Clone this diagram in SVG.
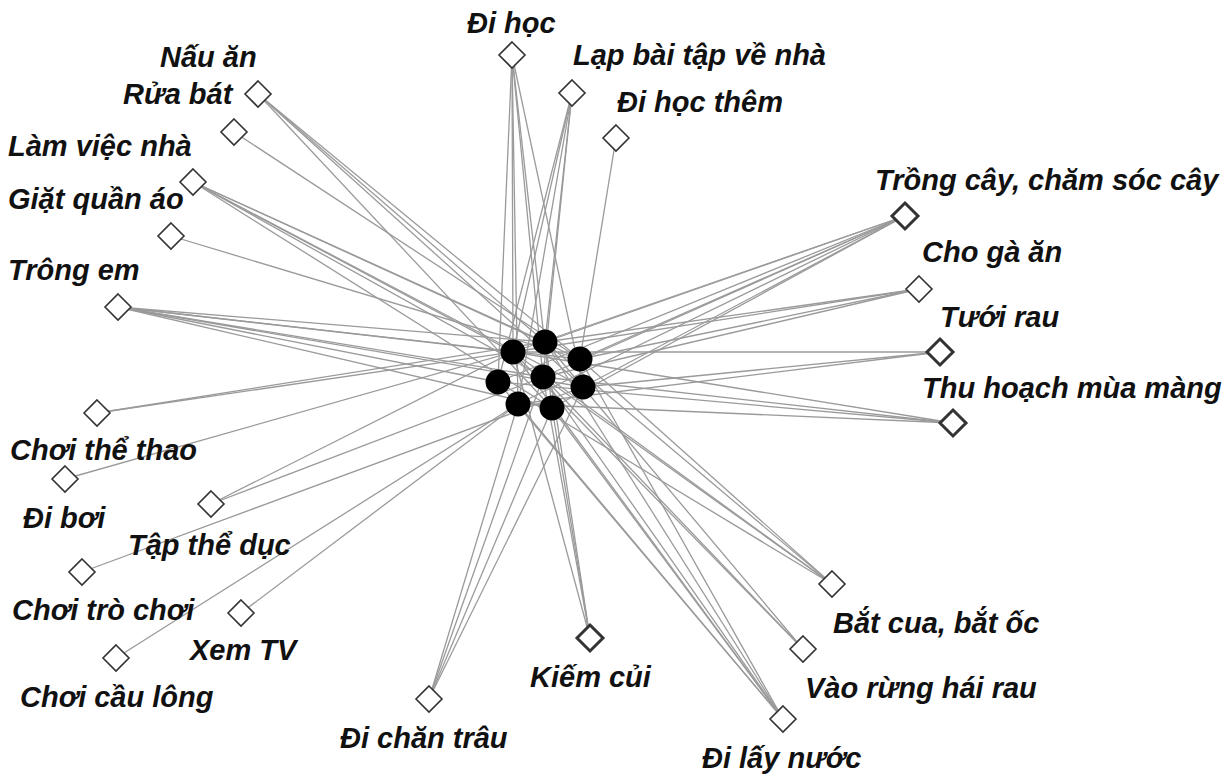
<svg xmlns="http://www.w3.org/2000/svg" xmlns:xlink="http://www.w3.org/1999/xlink" width="1227" height="776" viewBox="0 0 1227 776">
  <style>
    .e { stroke: #9a9a9a; stroke-width: 1.3; fill: none; }
    .dm { fill: #ffffff; stroke: #333333; stroke-width: 1.6; }
    .dm2 { fill: #ffffff; stroke: #333333; stroke-width: 3; }
    .dot { fill: #000000; }
    .lbl { font-family: "Liberation Sans", Arial, sans-serif; font-size: 29px; font-weight: bold; font-style: italic; fill: #111111; }
  </style>
  <defs>
    <path id="dia" d="M0,-13 L13,0 L0,13 L-13,0 Z"/>
  </defs>
  <rect width="1227" height="776" fill="#ffffff"/>

  <!-- connectors: each activity to the children who do it -->
  <g id="connectors">
    <!-- Nấu ăn -->
    <line class="e" x1="258" y1="94" x2="545" y2="342"/>
    <line class="e" x1="258" y1="94" x2="580" y2="359"/>
    <line class="e" x1="258" y1="94" x2="583" y2="387"/>
    <line class="e" x1="258" y1="94" x2="552" y2="408"/>
    <!-- Rửa bát -->
    <line class="e" x1="234" y1="132" x2="580" y2="359"/>
    <!-- Làm việc nhà -->
    <line class="e" x1="193" y1="182" x2="513" y2="352"/>
    <line class="e" x1="193" y1="182" x2="545" y2="342"/>
    <line class="e" x1="193" y1="182" x2="580" y2="359"/>
    <line class="e" x1="193" y1="182" x2="543" y2="377"/>
    <line class="e" x1="193" y1="182" x2="583" y2="387"/>
    <line class="e" x1="193" y1="182" x2="552" y2="408"/>
    <!-- Giặt quần áo -->
    <line class="e" x1="171" y1="236" x2="580" y2="359"/>
    <!-- Trông em -->
    <line class="e" x1="118" y1="307" x2="513" y2="352"/>
    <line class="e" x1="118" y1="307" x2="545" y2="342"/>
    <line class="e" x1="118" y1="307" x2="580" y2="359"/>
    <line class="e" x1="118" y1="307" x2="498" y2="382"/>
    <line class="e" x1="118" y1="307" x2="543" y2="377"/>
    <line class="e" x1="118" y1="307" x2="583" y2="387"/>
    <line class="e" x1="118" y1="307" x2="552" y2="408"/>
    <!-- Đi học -->
    <line class="e" x1="512" y1="55" x2="513" y2="352"/>
    <line class="e" x1="512" y1="55" x2="498" y2="382"/>
    <line class="e" x1="512" y1="55" x2="518" y2="404"/>
    <line class="e" x1="512" y1="55" x2="543" y2="377"/>
    <line class="e" x1="512" y1="55" x2="552" y2="408"/>
    <line class="e" x1="512" y1="55" x2="583" y2="387"/>
    <!-- Lạp bài tập về nhà -->
    <line class="e" x1="572" y1="93" x2="513" y2="352"/>
    <line class="e" x1="572" y1="93" x2="498" y2="382"/>
    <line class="e" x1="572" y1="93" x2="518" y2="404"/>
    <line class="e" x1="572" y1="93" x2="543" y2="377"/>
    <line class="e" x1="572" y1="93" x2="545" y2="342"/>
    <!-- Đi học thêm -->
    <line class="e" x1="616" y1="138" x2="580" y2="359"/>
    <!-- Trồng cây, chăm sóc cây -->
    <line class="e" x1="905" y1="216" x2="513" y2="352"/>
    <line class="e" x1="905" y1="216" x2="545" y2="342"/>
    <line class="e" x1="905" y1="216" x2="580" y2="359"/>
    <line class="e" x1="905" y1="216" x2="498" y2="382"/>
    <line class="e" x1="905" y1="216" x2="543" y2="377"/>
    <line class="e" x1="905" y1="216" x2="583" y2="387"/>
    <line class="e" x1="905" y1="216" x2="518" y2="404"/>
    <line class="e" x1="905" y1="216" x2="552" y2="408"/>
    <!-- Cho gà ăn -->
    <line class="e" x1="919" y1="289" x2="545" y2="342"/>
    <line class="e" x1="919" y1="289" x2="580" y2="359"/>
    <line class="e" x1="919" y1="289" x2="513" y2="352"/>
    <line class="e" x1="919" y1="289" x2="543" y2="377"/>
    <!-- Tưới rau -->
    <line class="e" x1="940" y1="352" x2="513" y2="352"/>
    <line class="e" x1="940" y1="352" x2="518" y2="404"/>
    <line class="e" x1="940" y1="352" x2="583" y2="387"/>
    <!-- Thu hoạch mùa màng -->
    <line class="e" x1="953" y1="423" x2="498" y2="382"/>
    <line class="e" x1="953" y1="423" x2="513" y2="352"/>
    <line class="e" x1="953" y1="423" x2="543" y2="377"/>
    <line class="e" x1="953" y1="423" x2="518" y2="404"/>
    <!-- Chơi thể thao -->
    <line class="e" x1="97" y1="413" x2="513" y2="352"/>
    <line class="e" x1="97" y1="413" x2="545" y2="342"/>
    <!-- Đi bơi -->
    <line class="e" x1="65" y1="479" x2="513" y2="352"/>
    <!-- Tập thể dục -->
    <line class="e" x1="211" y1="504" x2="513" y2="352"/>
    <line class="e" x1="211" y1="504" x2="543" y2="377"/>
    <!-- Chơi trò chơi -->
    <line class="e" x1="82" y1="572" x2="583" y2="387"/>
    <!-- Xem TV -->
    <line class="e" x1="241" y1="613" x2="518" y2="404"/>
    <!-- Chơi cầu lông -->
    <line class="e" x1="116" y1="658" x2="518" y2="404"/>
    <!-- Đi chăn trâu -->
    <line class="e" x1="429" y1="699" x2="518" y2="404"/>
    <line class="e" x1="429" y1="699" x2="543" y2="377"/>
    <line class="e" x1="429" y1="699" x2="552" y2="408"/>
    <line class="e" x1="429" y1="699" x2="583" y2="387"/>
    <!-- Kiếm củi -->
    <line class="e" x1="590" y1="638" x2="513" y2="352"/>
    <line class="e" x1="590" y1="638" x2="545" y2="342"/>
    <line class="e" x1="590" y1="638" x2="543" y2="377"/>
    <line class="e" x1="590" y1="638" x2="552" y2="408"/>
    <!-- Đi lấy nước -->
    <line class="e" x1="783" y1="719" x2="513" y2="352"/>
    <line class="e" x1="783" y1="719" x2="545" y2="342"/>
    <line class="e" x1="783" y1="719" x2="580" y2="359"/>
    <line class="e" x1="783" y1="719" x2="498" y2="382"/>
    <line class="e" x1="783" y1="719" x2="543" y2="377"/>
    <line class="e" x1="783" y1="719" x2="518" y2="404"/>
    <line class="e" x1="783" y1="719" x2="552" y2="408"/>
    <!-- Vào rừng hái rau -->
    <line class="e" x1="803" y1="649" x2="513" y2="352"/>
    <line class="e" x1="803" y1="649" x2="545" y2="342"/>
    <line class="e" x1="803" y1="649" x2="543" y2="377"/>
    <!-- Bắt cua, bắt ốc -->
    <line class="e" x1="832" y1="584" x2="513" y2="352"/>
    <line class="e" x1="832" y1="584" x2="545" y2="342"/>
    <line class="e" x1="832" y1="584" x2="580" y2="359"/>
    <line class="e" x1="832" y1="584" x2="498" y2="382"/>
    <line class="e" x1="832" y1="584" x2="543" y2="377"/>
  </g>

  <!-- children -->
  <g id="child-1"><circle class="dot" cx="513" cy="352" r="12.5"/></g>
  <g id="child-2"><circle class="dot" cx="545" cy="342" r="12.5"/></g>
  <g id="child-3"><circle class="dot" cx="580" cy="359" r="12.5"/></g>
  <g id="child-4"><circle class="dot" cx="498" cy="382" r="12.5"/></g>
  <g id="child-5"><circle class="dot" cx="543" cy="377" r="12.5"/></g>
  <g id="child-6"><circle class="dot" cx="583" cy="387" r="12.5"/></g>
  <g id="child-7"><circle class="dot" cx="518" cy="404" r="12.5"/></g>
  <g id="child-8"><circle class="dot" cx="552" cy="408" r="12.5"/></g>

  <!-- activities -->
  <g id="nau-an"><use xlink:href="#dia" class="dm" x="258" y="94"/><text class="lbl" x="160" y="67">Nấu ăn</text></g>
  <g id="rua-bat"><use xlink:href="#dia" class="dm" x="234" y="132"/><text class="lbl" x="123" y="104">Rửa bát</text></g>
  <g id="lam-viec-nha"><use xlink:href="#dia" class="dm" x="193" y="182"/><text class="lbl" x="8" y="156">Làm việc nhà</text></g>
  <g id="giat-quan-ao"><use xlink:href="#dia" class="dm" x="171" y="236"/><text class="lbl" x="8" y="209">Giặt quần áo</text></g>
  <g id="trong-em"><use xlink:href="#dia" class="dm" x="118" y="307"/><text class="lbl" x="8" y="280">Trông em</text></g>
  <g id="di-hoc"><use xlink:href="#dia" class="dm" x="512" y="55"/><text class="lbl" x="467" y="33">Đi học</text></g>
  <g id="lap-bai-tap"><use xlink:href="#dia" class="dm" x="572" y="93"/><text class="lbl" x="573" y="65">Lạp bài tập về nhà</text></g>
  <g id="di-hoc-them"><use xlink:href="#dia" class="dm" x="616" y="138"/><text class="lbl" x="617" y="112">Đi học thêm</text></g>
  <g id="trong-cay"><use xlink:href="#dia" class="dm2" x="905" y="216"/><text class="lbl" x="875" y="190">Trồng cây, chăm sóc cây</text></g>
  <g id="cho-ga-an"><use xlink:href="#dia" class="dm" x="919" y="289"/><text class="lbl" x="922" y="262">Cho gà ăn</text></g>
  <g id="tuoi-rau"><use xlink:href="#dia" class="dm2" x="940" y="352"/><text class="lbl" x="940" y="327">Tưới rau</text></g>
  <g id="thu-hoach"><use xlink:href="#dia" class="dm2" x="953" y="423"/><text class="lbl" x="922" y="398">Thu hoạch mùa màng</text></g>
  <g id="choi-the-thao"><use xlink:href="#dia" class="dm" x="97" y="413"/><text class="lbl" x="10" y="460">Chơi thể thao</text></g>
  <g id="di-boi"><use xlink:href="#dia" class="dm" x="65" y="479"/><text class="lbl" x="23" y="528">Đi bơi</text></g>
  <g id="tap-the-duc"><use xlink:href="#dia" class="dm" x="211" y="504"/><text class="lbl" x="128" y="555">Tập thể dục</text></g>
  <g id="choi-tro-choi"><use xlink:href="#dia" class="dm" x="82" y="572"/><text class="lbl" x="12" y="620">Chơi trò chơi</text></g>
  <g id="xem-tv"><use xlink:href="#dia" class="dm" x="241" y="613"/><text class="lbl" x="190" y="660">Xem TV</text></g>
  <g id="choi-cau-long"><use xlink:href="#dia" class="dm" x="116" y="658"/><text class="lbl" x="20" y="707">Chơi cầu lông</text></g>
  <g id="di-chan-trau"><use xlink:href="#dia" class="dm" x="429" y="699"/><text class="lbl" x="340" y="748">Đi chăn trâu</text></g>
  <g id="kiem-cui"><use xlink:href="#dia" class="dm2" x="590" y="638"/><text class="lbl" x="530" y="687">Kiếm củi</text></g>
  <g id="di-lay-nuoc"><use xlink:href="#dia" class="dm" x="783" y="719"/><text class="lbl" x="702" y="768">Đi lấy nước</text></g>
  <g id="vao-rung"><use xlink:href="#dia" class="dm" x="803" y="649"/><text class="lbl" x="805" y="698">Vào rừng hái rau</text></g>
  <g id="bat-cua"><use xlink:href="#dia" class="dm" x="832" y="584"/><text class="lbl" x="833" y="633">Bắt cua, bắt ốc</text></g>
</svg>
